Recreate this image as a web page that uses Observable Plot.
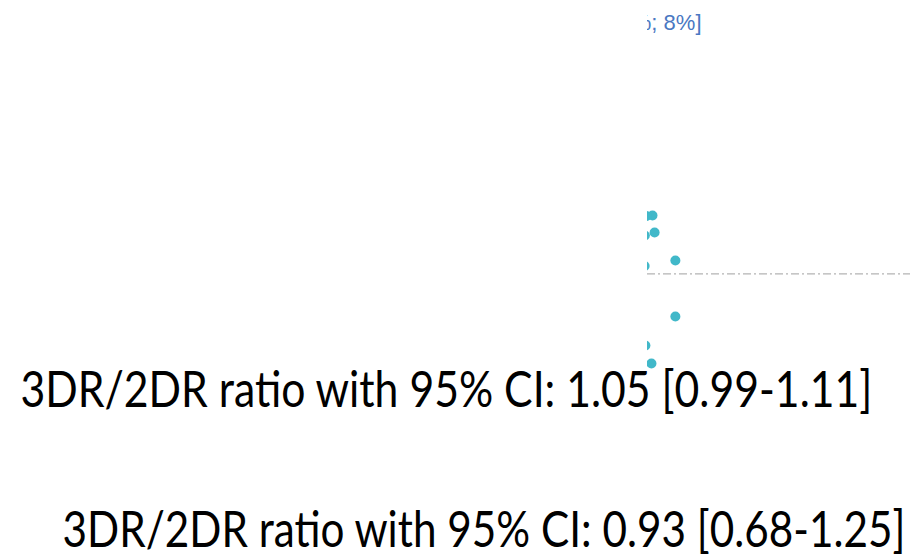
<!DOCTYPE html>
<html><head><meta charset="utf-8">
<script src="https://cdn.jsdelivr.net/npm/d3@7"></script>
<script src="https://cdn.jsdelivr.net/npm/@observablehq/plot@0.6"></script>
<style>body{margin:0;background:#fff;} svg{display:block;}</style>
</head><body><div id="chart"></div>
<script>
// Bland-Altman style points (mean, difference) — only the right slice of the chart is visible
const means = [21.9, 19.6, 22.7, 19.0, 30.6, 18.9, 30.6, 19.2, 21.5];
const diffs = [6.76, 6.7, 4.92, 4.6, 1.89, 1.3, -4.16, -7.30, -9.24];
const meanDiff = 0.45;
const limitLabel = "[-4%; 8%]";
const ratioLabels = [
  "3DR/2DR ratio with 95% CI: 1.05 [0.99-1.11]",
  "3DR/2DR ratio with 95% CI: 0.93 [0.68-1.25]"
];
const points = means.map((m, i) => ({mean: m, diff: diffs[i]}));

const chart = Plot.plot({
  width: 910, height: 555,
  marginLeft: 647, marginRight: 0, marginTop: 0, marginBottom: 0,
  x: {domain: [20, 120], axis: null},
  y: {domain: [-30, 30], axis: null},
  marks: [
    Plot.ruleY([meanDiff], {stroke: "#b4b4b4", strokeWidth: 1.3, strokeDasharray: "8,3,2,3", clip: true}),
    Plot.dot(points, {x: "mean", y: "diff", r: 5, fill: "#41b8c9", stroke: "none", clip: true}),
    Plot.text([limitLabel], {frameAnchor: "top-left", dx: 54, dy: 22, textAnchor: "end", lineAnchor: "middle",
      fill: "#4a78c2", fontSize: 22, fontFamily: "Liberation Sans, Arial, sans-serif", clip: true}),
    Plot.text([ratioLabels[0]], {frameAnchor: "top-left", dx: -627, dy: 390, textAnchor: "start", lineAnchor: "middle",
      fill: "#000", fontSize: 38, fontFamily: "Lato, sans-serif", className: "big1"}),
    Plot.text([ratioLabels[1]], {frameAnchor: "top-left", dx: -585, dy: 530, textAnchor: "start", lineAnchor: "middle",
      fill: "#000", fontSize: 38, fontFamily: "Lato, sans-serif", className: "big2"})
  ]
});
document.getElementById("chart").appendChild(chart);
// Narrow, tall glyphs (Calibri-like): stretch each big label to the reference's width and cap height
[["big1", 852], ["big2", 843]].forEach(([cls, w]) => {
  const g = chart.querySelector("g." + cls);
  if (!g) return;
  const b = g.getBBox();
  const sx = w / b.width, sy = 1.3;
  const cx = b.x, cy = b.y + b.height / 2;
  const prev = g.getAttribute("transform") || "";
  g.setAttribute("transform", `${prev} translate(${cx},${cy}) scale(${sx},${sy}) translate(${-cx},${-cy})`);
});
</script></body></html>
